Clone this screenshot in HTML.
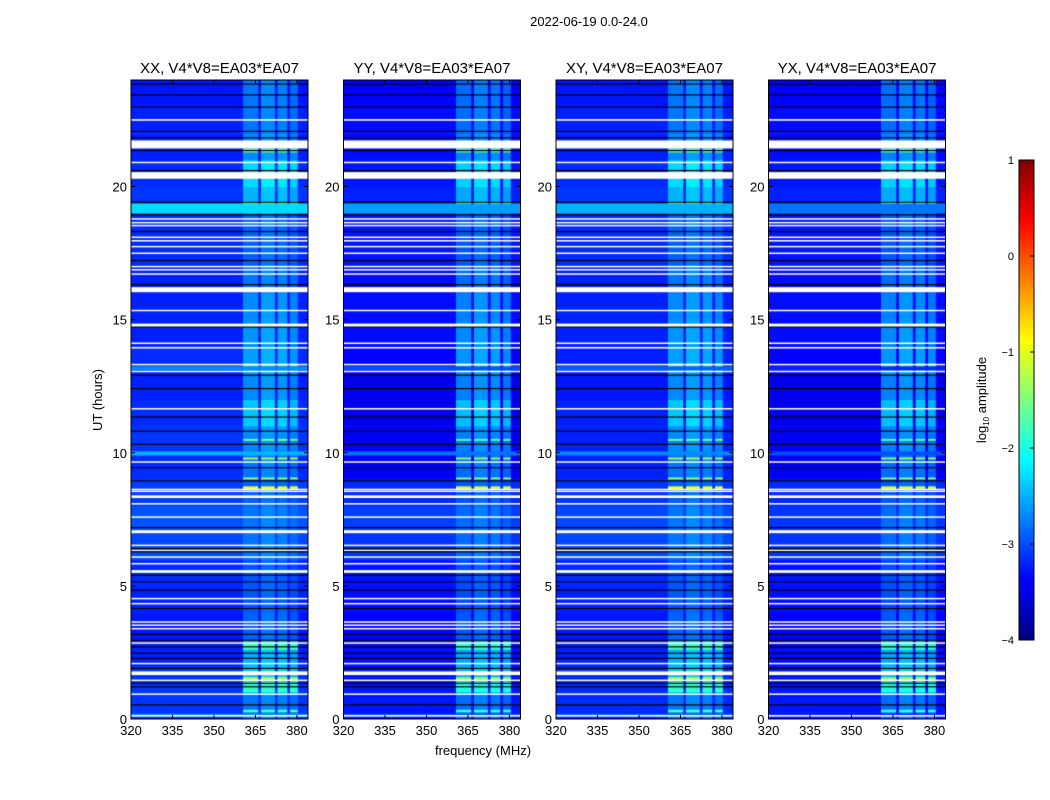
<!DOCTYPE html>
<html><head><meta charset="utf-8">
<style>
html,body{margin:0;padding:0;background:#fff;}
#wrap{position:relative;width:1050px;height:800px;overflow:hidden;font-family:"Liberation Sans",sans-serif;}
canvas{position:absolute;}
svg{position:absolute;left:0;top:0;}
</style></head>
<body>
<div id="wrap">
<svg id="ov" width="1050" height="800"></svg>
</div>
<script>
// ---- data ----
const panelNames = ["XX, V4*V8=EA03*EA07","YY, V4*V8=EA03*EA07","XY, V4*V8=EA03*EA07","YX, V4*V8=EA03*EA07"];
const xTicks = [320,335,350,365,380];
const yTicks = [0,5,10,15,20];
const cbTicks = [1,0,-1,-2,-3,-4];
const baseXX = [-3.12,-3.12,-3.22,-3.27,-3.22,-3.17,-3.02,-2.97,-3.07,-3.17,-3.12,-3.17,-3.22,-3.17,-3.22,-3.22,-3.22,-3.17,-3.17,-3.12,-3.17,-3.22,-3.22,-3.27];
const baseYY = [-3.27,-3.27,-3.32,-3.37,-3.32,-3.27,-3.12,-3.07,-3.17,-3.42,-3.42,-3.47,-3.47,-3.37,-3.32,-3.32,-3.32,-3.27,-3.27,-3.22,-3.27,-3.32,-3.32,-3.37];
const baseXY = [-3.17,-3.17,-3.22,-3.27,-3.22,-3.17,-3.02,-3.02,-3.12,-3.22,-3.22,-3.22,-3.27,-3.22,-3.22,-3.22,-3.22,-3.17,-3.17,-3.12,-3.17,-3.22,-3.22,-3.27];
const baseYX = [-3.27,-3.27,-3.32,-3.37,-3.32,-3.27,-3.12,-3.12,-3.17,-3.42,-3.42,-3.47,-3.47,-3.37,-3.32,-3.32,-3.32,-3.27,-3.27,-3.22,-3.27,-3.32,-3.32,-3.37];
const bandLevel = [-2.85,-2.45,-2.55,-2.95,-3.0,-3.0,-2.85,-2.85,-2.95,-2.85,-2.75,-2.45,-2.75,-2.65,-2.7,-2.75,-2.85,-2.95,-2.95,-2.55,-2.35,-2.75,-2.85,-2.85];
const bandOffset = [0,-0.05,0,-0.05];
const subbands = [[360.5,366],[367,372],[373,376.5],[377.5,380.3]];
const subbandBoost = [0.05,0.15,0.1,0];
const fullRows = [[18.99,19.36,-2.3],[9.9,10.05,-2.5],[1.66,1.8,-2.4],[5.49,5.6,-2.7],[13.1,13.25,-2.7],[0.1,0.2,-2.7]];
const fullRowOffset = [0,-0.3,-0.2,-0.5];
const bandRows = [[21.28,21.42,-1.5],[19.36,19.45,-1.5],[13.25,13.35,-1.7],[9.75,9.82,-1.3],[9.0,9.07,-1.3],[10.45,10.52,-1.5],[8.62,8.74,-1.0],[2.6,2.85,-1.8],[1.66,1.8,-0.7],[1.46,1.56,-1.1],[1.0,1.4,-1.9],[0.25,0.35,-1.8]];
const whiteRows = [[22.47,22.53],[21.43,21.73],[20.88,20.93],[20.29,20.54],[18.77,18.81],[18.63,18.67],[18.52,18.56],[18.08,18.12],[17.95,17.99],[17.73,17.77],[17.48,17.52],[16.98,17.02],[16.86,16.9],[16.7,16.74],[16.03,16.22],[15.33,15.37],[14.72,14.85],[14.1,14.14],[13.93,13.97],[13.3,13.34],[13.04,13.08],[11.64,11.68],[9.64,9.68],[8.61,8.65],[8.54,8.58],[8.3,8.4],[8.07,8.11],[7.57,7.61],[6.98,7.09],[6.51,6.55],[6.32,6.36],[6.07,6.11],[5.82,5.86],[5.49,5.59],[4.51,4.55],[4.32,4.36],[3.63,3.67],[3.51,3.55],[3.38,3.42],[2.84,2.88],[2.07,2.11],[1.65,1.78],[1.44,1.48],[0.92,0.96],[0.09,0.15]];
const blackRows = [23.85,23.44,22.98,22.07,21.83,21.35,20.6,19.41,18.94,18.31,17.22,16.31,14.72,12.91,12.41,11.34,10.81,10.32,9.44,8.94,7.19,6.4,6.28,5.4,5.15,4.84,4.15,3.18,2.96,2.71,2.47,2.28,1.9,1.34,1.21,0.53];
const panelBases = [baseXX,baseYY,baseXY,baseYX];

// ---- geometry ----
const panelLeft = [131,343.5,556,768.5];
const PW = 177, PT = 80, PH = 639;
const FMIN = 320, FMAX = 384, TMAX = 24;
const CBX = 1019, CBY = 160, CBW = 15, CBH = 480, VMIN = -4, VMAX = 1;

function jet(v){
  let x = (v - VMIN)/(VMAX - VMIN); x = Math.max(0, Math.min(1, x));
  const c = t => Math.round(255*Math.max(0, Math.min(1, t)));
  return `rgb(${c(Math.min(4*x-1.5,-4*x+4.5))},${c(Math.min(4*x-0.5,-4*x+3.5))},${c(Math.min(4*x+0.5,-4*x+2.5))})`;
}
const NS = "http://www.w3.org/2000/svg";
const ov = document.getElementById('ov');
function sv(tag, attrs, parent){ const e = document.createElementNS(NS, tag); for (const k in attrs) e.setAttribute(k, attrs[k]); (parent||ov).appendChild(e); return e; }

panelNames.forEach((name, p) => {
  const L = panelLeft[p];
  const xs = f => (f - FMIN)/(FMAX - FMIN)*PW;
  const ys = t => PH*(1 - t/TMAX);
  const cv = document.createElement('canvas');
  cv.width = PW; cv.height = PH;
  cv.style.left = L + 'px'; cv.style.top = PT + 'px';
  
  
  document.getElementById('wrap').insertBefore(cv, ov);
  const ctx = cv.getContext('2d');
  const base = panelBases[p];
  base.forEach((lv, h) => { ctx.fillStyle = jet(lv); ctx.fillRect(0, ys(h+1), PW, ys(h)-ys(h+1)+0.5); });
  bandLevel.forEach((lv, h) => {
    subbands.forEach((sb, i) => {
      ctx.fillStyle = jet(lv + bandOffset[p] + subbandBoost[i]);
      ctx.fillRect(xs(sb[0]), ys(h+1), xs(sb[1])-xs(sb[0]), ys(h)-ys(h+1)+0.5);
    });
  });
  fullRows.forEach(r => { ctx.fillStyle = jet(r[2] + fullRowOffset[p]); ctx.fillRect(0, ys(r[1]), PW, Math.max(1.5, ys(r[0])-ys(r[1]))); });
  bandRows.forEach(r => {
    subbands.forEach(sb => { ctx.fillStyle = jet(r[2] + bandOffset[p]*2); ctx.fillRect(xs(sb[0]), ys(r[1]), xs(sb[1])-xs(sb[0]), Math.max(1.5, ys(r[0])-ys(r[1]))); });
  });
  ctx.fillStyle = '#ffffff';
  whiteRows.forEach(r => ctx.fillRect(0, ys(r[1]), PW, Math.max(1.5, ys(r[0])-ys(r[1]))));
  ctx.fillStyle = '#000000';
  blackRows.forEach(t => ctx.fillRect(0, ys(t)-0.6, PW, 1.2));

  const g = sv('g', {});
  
  
  const fr = sv('rect', {x: L, y: PT, width: PW, height: PH, fill: 'none', stroke: '#000', 'stroke-width': 1}, g);
  
  
  const tt = sv('text', {x: L + PW/2, y: PT - 7, 'text-anchor': 'middle', 'font-size': 15}, g);
  tt.textContent = name;
  
  
  xTicks.forEach(f => {
    const x = L + xs(f);
    sv('line', {x1: x, x2: x, y1: PT+PH, y2: PT+PH-4, stroke: '#000'}, g);
    sv('line', {x1: x, x2: x, y1: PT, y2: PT+4, stroke: '#000'}, g);
    const t = sv('text', {x: x, y: PT+PH+16, 'text-anchor': 'middle', 'font-size': 13}, g);
    t.textContent = f;
    
    
  });
  yTicks.forEach(v => {
    const y = PT + ys(v);
    sv('line', {x1: L, x2: L+4, y1: y, y2: y, stroke: '#000'}, g);
    sv('line', {x1: L+PW, x2: L+PW-4, y1: y, y2: y, stroke: '#000'}, g);
    const t = sv('text', {x: L-4, y: y+5, 'text-anchor': 'end', 'font-size': 13}, g);
    t.textContent = v;
    
    
  });
});

const st = sv('text', {x: 589, y: 26, 'text-anchor': 'middle', 'font-size': 13});
st.textContent = '2022-06-19 0.0-24.0';


const xl = sv('text', {x: 483, y: 755, 'text-anchor': 'middle', 'font-size': 13});
xl.textContent = 'frequency (MHz)';


const yl = sv('text', {x: 0, y: 0, 'text-anchor': 'middle', 'font-size': 13, transform: 'translate(102,400) rotate(-90)'});
yl.textContent = 'UT (hours)';



const cb = document.createElement('canvas');
cb.width = CBW; cb.height = CBH;
cb.style.left = CBX + 'px'; cb.style.top = CBY + 'px';


document.getElementById('wrap').insertBefore(cb, ov);
const cctx = cb.getContext('2d');
for (let i = 0; i < CBH; i++) { cctx.fillStyle = jet(VMAX - (i+0.5)/CBH*(VMAX-VMIN)); cctx.fillRect(0, i, CBW, 1); }
sv('rect', {x: CBX, y: CBY, width: CBW, height: CBH, fill: 'none', stroke: '#000'});
cbTicks.forEach(v => {
  const y = CBY + (VMAX - v)/(VMAX - VMIN)*CBH;
  sv('line', {x1: CBX+CBW, x2: CBX+CBW-4, y1: y, y2: y, stroke: '#000'});
  const t = sv('text', {x: CBX-5, y: y+4, 'text-anchor': 'end', 'font-size': 11});
  t.textContent = v < 0 ? '\u2212' + Math.abs(v) : v;
  
  
});
const cl = sv('text', {x: 0, y: 0, 'text-anchor': 'middle', 'font-size': 13, transform: 'translate(986,400) rotate(-90)'});


cl.innerHTML = 'log<tspan font-size="8" dy="3">10</tspan><tspan dy="-3"> amplitude</tspan>';
</script>
</body></html>
